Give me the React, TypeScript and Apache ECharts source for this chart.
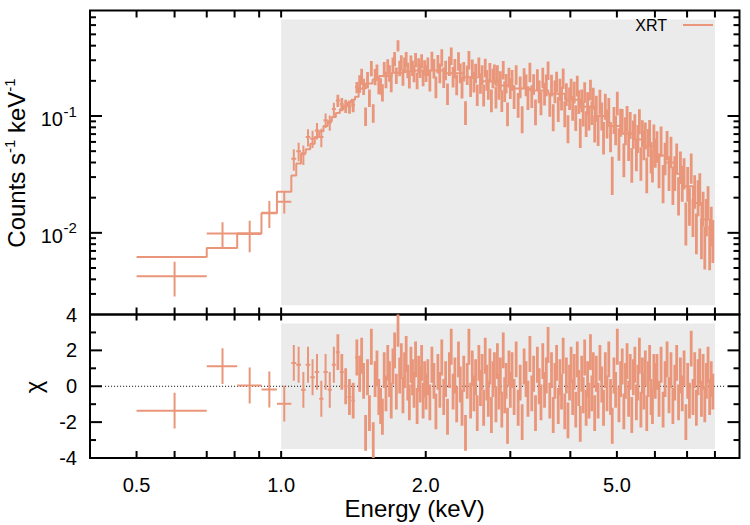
import React, { useEffect, useRef } from "react";
import * as echarts from "echarts";

const SALMON = "#E9967A";
const GRAY = "#EBEBEB";
const FONT = '"Liberation Sans", Arial, Helvetica, sans-serif';

// Energy bin edges (keV)
const binEdges = [
  0.5, 0.7, 0.81, 0.91, 0.98, 1.05,
  1.075, 1.1, 1.125, 1.15, 1.175, 1.2, 1.225, 1.25, 1.275, 1.3, 1.325, 1.35, 1.375, 1.4, 1.425, 1.45,
  1.464, 1.478, 1.492, 1.506, 1.52, 1.534, 1.548, 1.562, 1.576, 1.59, 1.604, 1.618, 1.632, 1.646, 1.66, 1.674, 1.688, 1.702, 1.716, 1.73,
  1.744, 1.758, 1.772, 1.786, 1.8, 1.814, 1.828, 1.842, 1.856, 1.87, 1.884, 1.898, 1.912, 1.926, 1.94, 1.954, 1.968, 1.982, 1.996, 2.01,
  2.03, 2.05, 2.07, 2.09, 2.11, 2.13, 2.15, 2.17, 2.19, 2.21, 2.23, 2.25, 2.27, 2.29, 2.31, 2.33, 2.35, 2.37, 2.39, 2.41, 2.43, 2.45, 2.47, 2.49, 2.51,
  2.53, 2.55, 2.57, 2.59, 2.61, 2.63, 2.65, 2.67, 2.69, 2.71, 2.73, 2.75, 2.77, 2.79, 2.81, 2.83, 2.85, 2.87, 2.89, 2.91, 2.93, 2.95, 2.97, 2.99, 3.01,
  3.04, 3.07, 3.1, 3.13, 3.16, 3.19, 3.22, 3.25, 3.28, 3.31, 3.34, 3.37, 3.4, 3.43, 3.46, 3.49, 3.52, 3.55, 3.58, 3.61, 3.64, 3.67, 3.7, 3.73, 3.76,
  3.79, 3.82, 3.85, 3.88, 3.91, 3.94, 3.97, 4.0, 4.03, 4.06, 4.09, 4.12, 4.15, 4.18, 4.21, 4.24, 4.27, 4.3, 4.33, 4.36, 4.39, 4.42, 4.45, 4.48, 4.51,
  4.55, 4.59, 4.63, 4.67, 4.71, 4.75, 4.79, 4.83, 4.87, 4.91, 4.95, 4.99, 5.03, 5.07, 5.11, 5.15, 5.19, 5.23, 5.27, 5.31, 5.35, 5.39, 5.43, 5.47, 5.51,
  5.55, 5.59, 5.63, 5.67, 5.71, 5.75, 5.79, 5.83, 5.87, 5.91, 5.95, 5.99, 6.03,
  6.09, 6.15, 6.21, 6.27, 6.33, 6.39, 6.45, 6.51, 6.57, 6.63, 6.69, 6.75, 6.81, 6.87, 6.93, 6.99, 7.05, 7.11, 7.17, 7.23, 7.29, 7.35, 7.41, 7.47, 7.53,
  7.59, 7.65, 7.71, 7.77, 7.83, 7.89, 7.95,
];

// Count rate per bin (counts s^-1 keV^-1)
const rate = [
  0.00426, 0.00988, 0.00975, 0.01485, 0.0185,
  0.043, 0.05, 0.047, 0.066, 0.064, 0.075, 0.066, 0.092, 0.088, 0.115, 0.136, 0.126, 0.122, 0.12, 0.124, 0.176,
  0.191, 0.219, 0.18, 0.1, 0.205, 0.144, 0.257, 0.107, 0.218, 0.238, 0.185, 0.181, 0.16, 0.252, 0.206, 0.266, 0.234, 0.192, 0.276, 0.31,
  0.224, 0.4, 0.258, 0.288, 0.216, 0.275, 0.309, 0.248, 0.205, 0.286, 0.259, 0.232, 0.304, 0.202, 0.272, 0.249, 0.296, 0.214, 0.261, 0.233,
  0.268, 0.203, 0.301, 0.259, 0.18, 0.282, 0.236, 0.319, 0.217, 0.25, 0.157, 0.272, 0.329, 0.219, 0.258, 0.188, 0.298, 0.236, 0.179, 0.244,
  0.109, 0.227, 0.305, 0.182, 0.256, 0.199, 0.235, 0.154, 0.268, 0.194, 0.228, 0.153, 0.262, 0.206, 0.172, 0.239, 0.138, 0.213, 0.232, 0.147,
  0.23, 0.172, 0.203, 0.137, 0.251, 0.165, 0.192, 0.106, 0.217, 0.175,
  0.206, 0.149, 0.229, 0.127, 0.18, 0.096, 0.214, 0.187, 0.146, 0.24, 0.15, 0.19, 0.111, 0.209, 0.165, 0.132, 0.216, 0.158, 0.187, 0.248,
  0.128, 0.186, 0.1, 0.165, 0.199, 0.117, 0.172, 0.145, 0.213, 0.107, 0.156, 0.08, 0.144, 0.174, 0.12, 0.162, 0.099, 0.184, 0.135, 0.074,
  0.138, 0.107, 0.162, 0.088, 0.131, 0.099, 0.17, 0.109, 0.144, 0.08,
  0.119, 0.078, 0.135, 0.103, 0.068, 0.124, 0.089, 0.115, 0.069, 0.033, 0.095, 0.078, 0.131, 0.06, 0.091, 0.092, 0.044, 0.077, 0.098, 0.058,
  0.086, 0.04, 0.072, 0.083, 0.048, 0.066, 0.092, 0.041, 0.073, 0.058, 0.07, 0.033, 0.061, 0.074, 0.046, 0.039, 0.067, 0.05,
  0.057, 0.036, 0.063, 0.028, 0.045, 0.058, 0.034, 0.051, 0.027, 0.034, 0.045, 0.022, 0.038, 0.028, 0.0335, 0.013, 0.0275, 0.018, 0.037, 0.0144,
  0.0236, 0.0106, 0.021, 0.0247, 0.0096, 0.0169, 0.0081, 0.0144, 0.019, 0.0081, 0.0122, 0.0092,
];

// 1-sigma error of each rate, in percent
const rateErrPct = [
  33, 25, 30, 26, 21,
  21, 18, 19, 17, 17, 16, 18, 14, 15, 13, 12, 13, 13, 13, 13, 11,
  17, 16, 16, 18, 16, 17, 15, 18, 16, 16, 17, 16, 17, 15, 16, 15, 16, 17, 15, 14,
  16, 11, 15, 15, 16, 15, 14, 15, 16, 15, 15, 16, 14, 16, 15, 15, 14, 16, 15, 16,
  18, 20, 18, 19, 21, 18, 19, 17, 20, 19, 21, 19, 17, 20, 19, 20, 18, 19, 21, 19,
  23, 19, 18, 20, 19, 20, 19, 21, 18, 20, 19, 21, 18, 20, 20, 19, 22, 19, 19, 21,
  18, 20, 19, 21, 18, 20, 19, 23, 19, 20,
  20, 23, 19, 24, 21, 26, 20, 21, 23, 19, 22, 20, 25, 20, 22, 23, 20, 22, 21, 18,
  23, 21, 26, 22, 20, 24, 21, 23, 20, 25, 22, 27, 22, 20, 24, 21, 25, 20, 23, 28,
  22, 24, 20, 25, 22, 24, 20, 23, 21, 26,
  25, 29, 24, 27, 31, 25, 28, 24, 29, 36, 26, 28, 23, 31, 27, 25, 32, 27, 24, 29,
  26, 33, 27, 25, 30, 27, 24, 32, 26, 28, 26, 34, 27, 25, 30, 31, 26, 28,
  30, 33, 29, 36, 31, 28, 33, 30, 36, 33, 29, 36, 31, 34, 30, 40, 33, 36, 29, 36,
  32, 38, 34, 31, 38, 33, 40, 35, 32, 41, 37, 40,
];

// Residuals (chi) per bin
const chi = [
  -1.36, 1.12, 0.04, -0.18, -0.97,
  1.3, 1.2, -0.2, 1.2, 0.5, 0.8, -0.7, 0.8, -0.2, 1.2, 1.9, 0.8, 0, -0.6, -0.8, 1.6,
  0.7, 1.7, 0.3, -2.6, 0.5, -1.5, 2.2, -3.0, 0.4, 1.0, -0.6, -1.1, -1.7, 0.9, -0.4, 1.3, 0.4, -0.8, 1.1, 2.0,
  -0.3, 3.2, 0.6, 1.4, -0.5, 0.9, 1.8, 0.2, -0.9, 1.2, 0.5, -0.2, 1.5, -1.1, 0.7, 0.1, 1.3, -0.8, 0.4, -0.3,
  0.5, -0.9, 1.2, 0.3, -1.4, 0.8, -0.2, 1.6, -0.6, 0.4, -1.7, 0.9, 2.2, -0.3, 0.6, -1.0, 1.5, 0.1, -1.2, 0.7,
  -2.6, 0.3, 2.2, -0.8, 1.0, -0.4, 0.5, -1.5, 1.3, -0.1, 0.8, -1.2, 1.7, 0.2, -0.7, 1.1, -1.6, 0.4, 0.9, -1.0,
  1.4, -0.3, 0.6, -1.3, 2.0, -0.5, 0.3, -2.2, 1.0, -0.2,
  0.9, -0.6, 1.5, -1.2, 0.2, -2.0, 1.1, 0.4, -0.7, 1.8, -0.4, 0.7, -1.5, 1.2, 0, -0.9, 1.4, -0.2, 0.6, 2.3,
  -0.8, 0.9, -1.6, 0.3, 1.3, -1.1, 0.5, -0.3, 1.7, -1.4, 0.6, -1.9, 0.2, 1.2, -0.6, 0.8, -1.3, 1.5, -0.1, -2.1,
  0.7, -0.5, 1.6, -1.2, 0.4, -0.8, 1.9, -0.4, 0.9, -1.5,
  0.7, -0.8, 1.3, 0.1, -1.2, 0.9, -0.4, 1.5, -0.6, -2.2, 0.6, -0.2, 2.2, -1.0, 0.4, 1.1, -1.4, 0.3, 1.4, -0.7,
  0.8, -1.6, 0.5, 1.2, -0.9, 0.2, 1.7, -1.3, 0.6, -0.3, 1.0, -1.5, 0.4, 1.3, -0.6, -1.1, 0.8, 0.3,
  0.8, -0.7, 1.2, -1.3, 0.4, 1.5, -0.5, 0.9, -1.1, 0.2, 1.3, -0.9, 0.6, -0.4, 1.0, -2.0, 0.3, -0.8, 2.1, -0.6,
  0.9, -1.2, 0.5, 1.1, -0.7, 0.8, -1.0, 0.3, 1.2, -0.6, 0.4, -0.3,
];

// Folded model (step histogram)
const modelEdges = [
  0.5, 0.7, 0.81, 0.91, 0.98, 1.05, 1.075, 1.1, 1.125, 1.15, 1.175, 1.2, 1.225, 1.25, 1.275, 1.3, 1.325, 1.35, 1.375, 1.4, 1.425, 1.45,
  1.5, 1.55, 1.6, 1.7, 1.8, 1.9, 2.0, 2.2, 2.4, 2.6, 2.8, 3.0, 3.3, 3.6, 3.9, 4.2, 4.5, 4.8, 5.1, 5.4, 5.7, 6.0, 6.3, 6.6, 6.9, 7.2, 7.5, 7.8, 7.95,
];
const modelRate = [
  0.0062, 0.0074, 0.0099, 0.0147, 0.0225, 0.031, 0.0393, 0.048, 0.052, 0.058, 0.066, 0.074, 0.082, 0.09, 0.098, 0.106, 0.114, 0.122, 0.13, 0.138, 0.146,
  0.172, 0.19, 0.205, 0.22, 0.235, 0.24, 0.245, 0.245, 0.232, 0.215, 0.198, 0.182, 0.172, 0.165, 0.155, 0.138, 0.12, 0.1, 0.082, 0.071, 0.063, 0.055,
  0.046, 0.04, 0.032, 0.025, 0.018, 0.013, 0.0105,
];

// Axes
const energyRange = [0.4, 9];
const countRange = [0.002, 0.8];
const chiRange = [-4, 4];
const xTicks = [0.5, 0.6, 0.7, 0.8, 0.9, 1, 2, 3, 4, 5, 6, 7, 8];
const xLabelValues = [0.5, 1, 2, 5];
const xLabelTexts = ["0.5", "1.0", "2.0", "5.0"];
const countMajor = [0.01, 0.1];
const countMajorExp = ["-2", "-1"];
const countMinor = [
  0.003, 0.004, 0.005, 0.006, 0.007, 0.008, 0.009,
  0.02, 0.03, 0.04, 0.05, 0.06, 0.07, 0.08, 0.09,
  0.2, 0.3, 0.4, 0.5, 0.6, 0.7,
];
const chiMajor = [-4, -2, 0, 2, 4];
const chiLabels = ["-4", "-2", "0", "2", "4"];
const chiMinor = [-3, -1, 1, 3];

// Shaded fitting band
const bandEnergy = [1.0, 8.0];
const bandCount = [0.0024, 0.67];
const bandChi = [-3.5, 3.5];
const zeroLineEnergy = [0.43, 8.4];

function buildOption() {
  const n = Math.min(rate.length, rateErrPct.length, chi.length, binEdges.length - 1);
  const dataTop: number[][] = [];
  const dataChi: number[][] = [];
  for (let i = 0; i < n; i++) {
    const lo = binEdges[i];
    const hi = binEdges[i + 1];
    const r = rate[i];
    const e = (r * rateErrPct[i]) / 100;
    dataTop.push([(lo + hi) / 2, r, lo, hi, r - e, r + e]);
    dataChi.push([(lo + hi) / 2, chi[i], lo, hi, chi[i] - 1, chi[i] + 1]);
  }
  const modelLine: number[][] = modelRate.map((v, i) => [modelEdges[i], v]);
  modelLine.push([modelEdges[modelEdges.length - 1], modelRate[modelRate.length - 1]]);

  const errBar = (params: any, api: any) => {
    const y = api.value(1);
    const a = api.coord([api.value(2), y]);
    const b = api.coord([api.value(3), y]);
    const c = api.coord([api.value(0), api.value(4)]);
    const d = api.coord([api.value(0), api.value(5)]);
    const narrow = Math.abs(b[0] - a[0]) < 4;
    return {
      type: "group",
      children: [
        { type: "line", shape: { x1: a[0], y1: a[1], x2: b[0], y2: b[1] }, style: { stroke: SALMON, lineWidth: 2 } },
        { type: "line", shape: { x1: c[0], y1: c[1], x2: d[0], y2: d[1] }, style: { stroke: SALMON, lineWidth: narrow ? 2.8 : 2 } },
      ],
    };
  };

  const txt = (x: number, y: number, text: string, size: number, align: string, valign = "middle") => ({
    type: "text",
    x,
    y,
    style: {
      text,
      fill: "#000",
      fontSize: size,
      fontFamily: FONT,
      align,
      verticalAlign: valign,
      textAlign: align,
      textVerticalAlign: valign,
    },
  });

  const decorTop = (params: any, api: any) => {
    const cs = params.coordSys;
    const L = cs.x, R = cs.x + cs.width, T = cs.y, B = cs.y + cs.height;
    const ch: any[] = [];
    const ln = (x1: number, y1: number, x2: number, y2: number) =>
      ch.push({ type: "line", shape: { x1, y1, x2, y2 }, style: { stroke: "#000", lineWidth: 2 } });
    xTicks.forEach((v) => {
      const x = api.coord([v, 0.01])[0];
      ln(x, B, x, B - 7);
      ln(x, T, x, T + 7);
    });
    countMajor.forEach((v, i) => {
      const y = api.coord([1, v])[1];
      ln(L, y, L + 12, y);
      ln(R, y, R - 12, y);
      ch.push(txt(L - 27, y + 3, "10", 20, "right"));
      ch.push(txt(L - 26.5, y - 5, countMajorExp[i], 15, "left"));
    });
    countMinor.forEach((v) => {
      const y = api.coord([1, v])[1];
      ln(L, y, L + 6, y);
      ln(R, y, R - 6, y);
    });
    return { type: "group", children: ch };
  };

  const decorBottom = (params: any, api: any) => {
    const cs = params.coordSys;
    const L = cs.x, R = cs.x + cs.width, T = cs.y, B = cs.y + cs.height;
    const ch: any[] = [];
    const ln = (x1: number, y1: number, x2: number, y2: number) =>
      ch.push({ type: "line", shape: { x1, y1, x2, y2 }, style: { stroke: "#000", lineWidth: 2 } });
    xTicks.forEach((v) => {
      const x = api.coord([v, 0])[0];
      ln(x, B, x, B - 7);
      ln(x, T, x, T + 6);
    });
    xLabelValues.forEach((v, i) => {
      const x = api.coord([v, 0])[0];
      ch.push(txt(x, B + 27, xLabelTexts[i], 20, "center"));
    });
    chiMajor.forEach((v, i) => {
      const y = api.coord([1, v])[1];
      if (v !== -4 && v !== 4) {
        ln(L, y, L + 12, y);
        ln(R, y, R - 12, y);
      }
      ch.push(txt(L - 13, y, chiLabels[i], 20, "right"));
    });
    chiMinor.forEach((v) => {
      const y = api.coord([1, v])[1];
      ln(L, y, L + 6, y);
      ln(R, y, R - 6, y);
    });
    return { type: "group", children: ch };
  };

  const hiddenAxis = {
    axisLine: { show: false },
    axisTick: { show: false },
    axisLabel: { show: false },
    splitLine: { show: false },
  };

  return {
    animation: false,
    backgroundColor: "#fff",
    grid: [
      { left: 90, right: 10.5, top: 10.5, height: 304, show: true, borderColor: "#000", borderWidth: 2, backgroundColor: "transparent" },
      { left: 90, right: 10.5, top: 314.5, height: 143.5, show: true, borderColor: "#000", borderWidth: 2, backgroundColor: "transparent" },
    ],
    xAxis: [0, 1].map((g) => ({
      type: "log",
      logBase: 10,
      gridIndex: g,
      min: energyRange[0],
      max: energyRange[1],
      ...hiddenAxis,
    })),
    yAxis: [
      { type: "log", logBase: 10, gridIndex: 0, min: countRange[0], max: countRange[1], ...hiddenAxis },
      { type: "value", gridIndex: 1, min: chiRange[0], max: chiRange[1], ...hiddenAxis },
    ],
    series: [
      {
        type: "custom",
        name: "bandTop",
        xAxisIndex: 0,
        yAxisIndex: 0,
        silent: true,
        z: 1,
        data: [[1, 0.01]],
        renderItem: (params: any, api: any) => {
          const a = api.coord([bandEnergy[0], bandCount[1]]);
          const b = api.coord([bandEnergy[1], bandCount[0]]);
          return { type: "rect", shape: { x: a[0], y: a[1], width: b[0] - a[0], height: b[1] - a[1] }, style: { fill: GRAY } };
        },
      },
      {
        type: "custom",
        name: "bandBottom",
        xAxisIndex: 1,
        yAxisIndex: 1,
        silent: true,
        z: 1,
        data: [[1, 0]],
        renderItem: (params: any, api: any) => {
          const a = api.coord([bandEnergy[0], bandChi[1]]);
          const b = api.coord([bandEnergy[1], bandChi[0]]);
          return { type: "rect", shape: { x: a[0], y: a[1], width: b[0] - a[0], height: b[1] - a[1] }, style: { fill: GRAY } };
        },
      },
      {
        type: "line",
        name: "zero",
        xAxisIndex: 1,
        yAxisIndex: 1,
        silent: true,
        z: 2,
        symbol: "none",
        data: [[zeroLineEnergy[0], 0], [zeroLineEnergy[1], 0]],
        lineStyle: { color: "#000", width: 1, type: [1, 2] },
      },
      {
        type: "line",
        name: "XRT",
        xAxisIndex: 0,
        yAxisIndex: 0,
        step: "end",
        symbol: "none",
        z: 2,
        data: modelLine,
        lineStyle: { color: SALMON, width: 2 },
      },
      {
        type: "custom",
        name: "XRT data",
        xAxisIndex: 0,
        yAxisIndex: 0,
        clip: true,
        z: 3,
        encode: { x: 0, y: 1 },
        data: dataTop,
        renderItem: errBar,
      },
      {
        type: "custom",
        name: "XRT residuals",
        xAxisIndex: 1,
        yAxisIndex: 1,
        clip: true,
        z: 3,
        encode: { x: 0, y: 1 },
        data: dataChi,
        renderItem: errBar,
      },
      {
        type: "custom",
        name: "decorTop",
        xAxisIndex: 0,
        yAxisIndex: 0,
        silent: true,
        clip: false,
        z: 10,
        data: [[1, 0.01]],
        renderItem: decorTop,
      },
      {
        type: "custom",
        name: "decorBottom",
        xAxisIndex: 1,
        yAxisIndex: 1,
        silent: true,
        clip: false,
        z: 10,
        data: [[1, 0]],
        renderItem: decorBottom,
      },
    ],
    graphic: [
      {
        type: "text",
        z: 100,
        x: 414.6,
        y: 508,
        style: { text: "Energy (keV)", fill: "#000", fontSize: 24, fontFamily: FONT, align: "center", verticalAlign: "middle", textAlign: "center", textVerticalAlign: "middle" },
      },
      {
        type: "text",
        z: 100,
        x: 16.5,
        y: 163,
        rotation: Math.PI / 2,
        style: {
          text: "Counts s{sup|-1} keV{sup|-1}",
          fill: "#000",
          fontSize: 24,
          lineHeight: 30,
          fontFamily: FONT,
          align: "center",
          verticalAlign: "middle",
          textAlign: "center",
          textVerticalAlign: "middle",
          rich: { sup: { fontSize: 15, lineHeight: 18, verticalAlign: "top", fontFamily: FONT, fill: "#000" } },
        },
      },
      {
        type: "text",
        z: 100,
        x: 33.5,
        y: 387,
        rotation: Math.PI / 2,
        style: { text: "χ", fill: "#000", fontSize: 24, fontFamily: FONT, align: "center", verticalAlign: "middle", textAlign: "center", textVerticalAlign: "middle" },
      },
      {
        type: "text",
        z: 100,
        x: 667,
        y: 25,
        style: { text: "XRT", fill: "#000", fontSize: 16, fontFamily: FONT, align: "right", verticalAlign: "middle", textAlign: "right", textVerticalAlign: "middle" },
      },
      {
        type: "line",
        z: 100,
        shape: { x1: 683, y1: 25, x2: 713, y2: 25 },
        style: { stroke: SALMON, lineWidth: 2 },
      },
    ],
  };
}

export default function App() {
  const ref = useRef<HTMLDivElement>(null);
  useEffect(() => {
    if (!ref.current) return;
    const chart = echarts.init(ref.current, null, { renderer: "svg" });
    chart.setOption(buildOption() as any);
    return () => chart.dispose();
  }, []);
  return (
    <div
      ref={ref}
      style={{ position: "absolute", left: 0, top: 0, width: 750, height: 525, background: "#fff" }}
    />
  );
}
